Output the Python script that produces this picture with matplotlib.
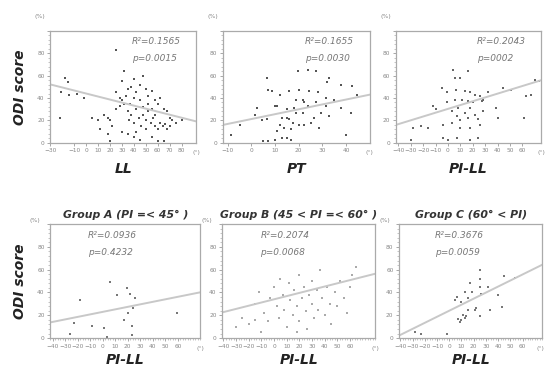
import matplotlib
matplotlib.use("Agg")
import matplotlib.pyplot as plt
import numpy as np
from matplotlib.ticker import MultipleLocator

# ---- data ----
ll_x = [-22, -21, -18, -15, -14, -8, -2, 25, 32, 30, 35, 38, 40, 42, 45, 48, 50, 52, 55, 58, 60,
        62, 65, 68, 70, 72, 75, 80, 15, 18, 20, 22, 25, 28, 30, 32, 35, 36, 38, 40, 42, 44, 46,
        48, 50, 52, 54, 56, 58, 60, 62, 64, 66, 68, 70, 30, 35, 40, 42, 45, 50, 55, 60, 65, 20,
        25, 28, 33, 37, 40, 45, 48, 52, 55, 58, 10, 5, 12, 18]
ll_y = [22, 45, 58, 54, 43, 44, 40, 83, 64, 55, 48, 50, 57, 45, 52, 60, 48, 42, 46, 38, 35,
        40, 30, 28, 22, 20, 18, 20, 25, 22, 20, 15, 30, 33, 38, 35, 28, 20, 25, 18, 30, 22, 15,
        25, 20, 28, 18, 22, 15, 12, 18, 15, 17, 12, 15, 10, 8, 5, 10, 3, 12, 5, 2, 2, 2,
        45, 40, 42, 35, 40, 38, 32, 35, 30, 25, 20, 22, 12, 8]

pt_x = [23.8, 6.7, 19.6, 27.5, 33, 32, 38, 42.5, 44.6, 7, 8.7, 12, 16, 20, 24.6, 28, 31.6, 21.7,
        19, 10, 10.8, 22.5, 24, 27.5, 31.6, 29.6, 26.7, 13, 15, 16, 17.5, 20, 22.5, 25.4, 28.7,
        33, 14, 17, 11, 2.5, 1.7, -4.6, -8.7, 5, 7, 10, 13, 15, 17, 40, 19, 21.7, 42, 6.7, 4.6,
        35, 38, 15, 18, 12]
pt_y = [65, 58, 64, 64, 58, 54, 52, 51, 43, 47, 46, 43, 46, 47, 46, 45, 40, 38, 38, 33, 33, 36,
        33, 36, 33, 27, 22, 22, 22, 21, 18, 16, 16, 18, 13, 24, 13, 12, 11, 31, 25, 16, 7, 2, 2,
        3, 4.5, 4.5, 3, 7, 27, 27, 27, 21, 20, 38, 31, 30, 31, 16]

pill_x = [4.4, 16.5, 10, 6, -5, -1, 6.8, 14, 18, 22, 26, 6, 11, 16.5, 27, -12, -10, -1, 8, 18, 39,
          28.5, 14, 22, 7, 16.5, 24.5, 10, 3, -4, -16, -22, -28, 10, 18, 26, 40.6, 61, 44.6, 51,
          63, 66.5, 70, 73, -4, 0, 7, 18, 24.5, -29.5, 28.5, 3, 20.5, 32.6]
pill_y = [65, 64, 58, 58, 49, 45, 47, 46, 45, 43, 42, 38, 38, 37, 37, 33, 30, 36, 31, 31, 31,
          28.6, 27, 25, 24, 22, 21, 20, 18, 16, 13, 15, 13, 13, 13, 16, 22, 22, 49, 47, 42, 43,
          56, 55, 4.5, 3, 4.5, 3, 4.5, 3, 38, 28.6, 36, 45]

a_x = [5.7, -18, 11, 19, 22, 26, 24, 20, 17, 23, 59, -23, -8.5, 1, -26, 3, 23]
a_y = [49, 33, 38, 44, 39, 35, 26, 22, 16, 11, 22, 13, 11, 9, 4, 1, 3]

b_x = [-25, -20, -15, -12, -8, -5, -3, 0, 2, 4, 5, 7, 8, 10, 12, 13, 15, 16, 18, 20, 20, 22, 24,
       25, 26, 28, 30, 30, 32, 34, 35, 36, 38, 40, 42, 44, 45, 48, 50, 52, 55, 58, 60, 62, 65,
       -30, -10, 18, -15]
b_y = [18, 12, 30, 40, 22, 15, 35, 45, 28, 18, 52, 38, 25, 10, 48, 33, 20, 42, 28, 55, 15, 35, 45,
       24, 8, 38, 30, 50, 18, 42, 25, 60, 35, 20, 45, 30, 12, 40, 28, 50, 35, 22, 45, 55, 62,
       10, 5, 5, 16]

c_x = [25, 25, 25, 17, 19, 13, 6, 10, 15, 26, 32, 40, 45, 54, 21, 15, 11, 13, 10, 9, 14, 25, 33,
       43, 22, 7, -28, -23, -2, 5]
c_y = [60, 52, 45, 48, 40, 40, 36, 32, 35, 39, 45, 38, 54, 53, 25, 25, 20, 18, 16, 14, 19, 19, 25,
       27, 26, 17, 5, 4, 4, 33]

# regression lines (slope, intercept) and stats
fits = [(-0.27, 44), (0.435, 21.2), (0.34, 30.3), (0.22, 23), (0.28, 34), (0.53, 24)]
r2_text = ["R²=0.1565", "R²=0.1655", "R²=0.2043", "R²=0.0936", "R²=0.2074", "R²=0.3676"]
p_text = ["p=0.0015", "p=0.0030", "p=0002", "p=0.4232", "p=0.0068", "p=0.0059"]
x_labels = ["LL", "PT", "PI-LL", "PI-LL", "PI-LL", "PI-LL"]
titles = ["", "", "", "Group A (PI =< 45° )", "Group B (45 < PI =< 60° )", "Group C (60° < PI)"]

xs = [ll_x, pt_x, pill_x, a_x, b_x, c_x]
ys = [ll_y, pt_y, pill_y, a_y, b_y, c_y]
xlims = [(-30, 92), (-12, 50), (-42, 75), (-42, 78), (-41, 80), (-41, 76)]
xticks = [[-30, -10, 0, 10, 20, 30, 40, 50, 60, 70, 80],
          [-10, 0, 10, 20, 30, 40],
          [-40, -30, -20, -10, 0, 10, 20, 30, 40, 50, 60],
          [-40, -30, -20, -10, 0, 10, 20, 30, 40, 50, 60],
          [-40, -30, -20, -10, 0, 10, 20, 30, 40, 50, 60],
          [-40, -30, -20, -10, 0, 10, 20, 30, 40, 50, 60]]
point_colors = ["#555555", "#555555", "#666666", "#777777", "#aaaaaa", "#777777"]

# axes boxes in figure fractions [left, bottom, width, height]
boxes = [[0.092, 0.618, 0.267, 0.300],
         [0.408, 0.618, 0.269, 0.300],
         [0.725, 0.618, 0.266, 0.300],
         [0.092, 0.096, 0.275, 0.305],
         [0.407, 0.096, 0.280, 0.305],
         [0.731, 0.096, 0.262, 0.305]]

fig = plt.figure(figsize=(5.46, 3.74), dpi=100)
grey = "#999999"

for i in range(6):
    ax = fig.add_axes(boxes[i])
    ax.scatter(xs[i], ys[i], s=4, marker="s", color=point_colors[i], linewidths=0)
    slope, icpt = fits[i]
    lx = np.array(xlims[i])
    ax.plot(lx, slope * lx + icpt, color="#c8c8c8", lw=1.4)
    ax.set_xlim(xlims[i])
    ax.set_ylim(0, 100)
    ax.set_xticks(xticks[i])
    ax.set_yticks([0, 20, 40, 60, 80, 100])
    ax.set_yticklabels(["0", "20", "40", "60", "80", ""])
    ax.yaxis.set_minor_locator(MultipleLocator(4))
    if i >= 3:
        ax.xaxis.set_minor_locator(MultipleLocator(2))
    ax.tick_params(axis="both", which="major", labelsize=4.2, labelcolor="#888888",
                   color=grey, length=2.5, width=0.6, pad=1.5)
    ax.tick_params(axis="both", which="minor", color=grey, length=1.5, width=0.4)
    for sp in ax.spines.values():
        sp.set_color("#aaaaaa")
        sp.set_linewidth(0.9)
    ax.text(0.56 if i < 3 else 0.25, 0.90, r2_text[i], transform=ax.transAxes,
            fontsize=6.5, style="italic", color="#777777", va="center")
    ax.text(0.56 if i < 3 else 0.25, 0.75, p_text[i], transform=ax.transAxes,
            fontsize=6.5, style="italic", color="#777777", va="center")
    ax.text(0.985 if i == 5 else 1.0, -0.09, "(°)", transform=ax.transAxes, fontsize=4.5,
            color="#888888", ha="center", va="center")
    if i < 3:
        ax.text(-0.07, 1.13, "(%)", transform=ax.transAxes, fontsize=4.5,
                color="#888888", ha="center", va="center")
    else:
        ax.text(-0.1, 1.03, "(%)", transform=ax.transAxes, fontsize=4.5,
                color="#888888", ha="center", va="center")
    ax.set_xlabel(x_labels[i], fontsize=10, fontweight="bold", style="italic",
                  color="#222222", labelpad=6 if i < 3 else 3)
    if titles[i]:
        ax.set_title(titles[i], fontsize=7.8, fontweight="bold", style="italic",
                     color="#333333", pad=4)
    if i in (0, 3):
        ax.set_ylabel("ODI score", fontsize=10, fontweight="bold", style="italic",
                      color="#222222", labelpad=7)

plt.savefig("out.png", dpi=100)
